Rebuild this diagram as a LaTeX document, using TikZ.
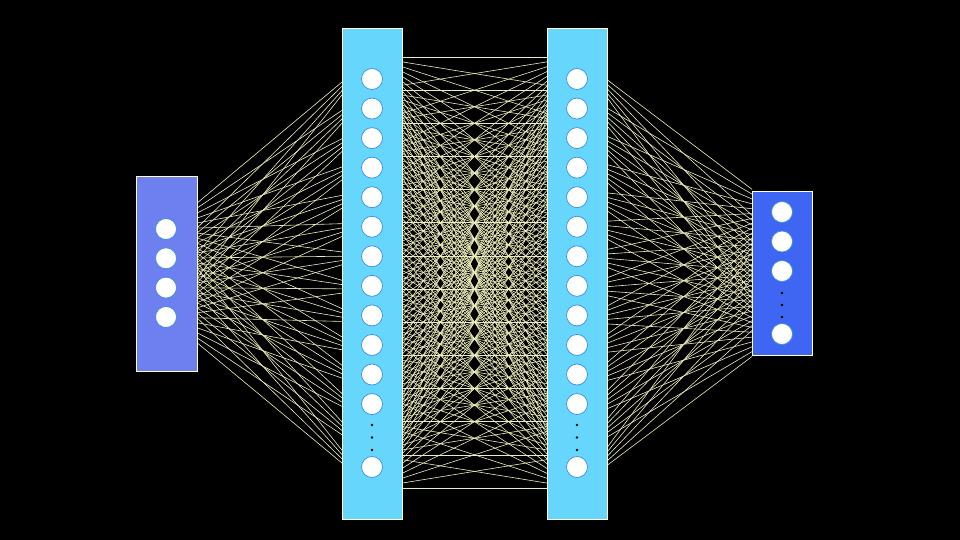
\documentclass[tikz,border=0pt]{standalone}
\usepackage{xcolor}
\definecolor{inputblue}{HTML}{6E80F0}
\definecolor{hiddencyan}{HTML}{66D6FC}
\definecolor{outputblue}{HTML}{3F66F2}
\definecolor{edgepale}{HTML}{FFFFD8}
\definecolor{wirepale}{HTML}{ECEDBC}
\definecolor{neuronrim}{HTML}{3C8CE6}
\tikzset{
  layerbox/.style={
    draw=edgepale,
    line width=0.8pt,
    inner sep=0pt,
    outer sep=0pt
  },
  inputbox/.style={layerbox, fill=inputblue, minimum width=61pt, minimum height=195pt},
  hiddenbox/.style={layerbox, fill=hiddencyan, minimum width=60pt, minimum height=491pt},
  outputbox/.style={layerbox, fill=outputblue, minimum width=60pt, minimum height=164pt},
  neuron/.style={
    circle,
    draw=neuronrim,
    fill=white,
    line width=0.7pt,
    minimum size=21pt,
    inner sep=0pt
  },
  gapdot/.style={circle, fill=black, minimum size=2.6pt, inner sep=0pt},
  weightline/.style={draw=wirepale, line width=0.6pt}
}

\begin{document}
\begin{tikzpicture}[x=1pt,y=-1pt]
\fill[black] (0,0) rectangle (960,540);
\useasboundingbox (0,0) rectangle (960,540);

% units the weights are aimed at
\foreach \y [count=\k] in {229,258.3,287.6,317}{\coordinate (inP\k) at (166,\y);}
\foreach \k in {0,...,13}{
  \coordinate (vA\k) at (372,57+33.15*\k);
  \coordinate (vB\k) at (577,57+33.15*\k);
}
\foreach \y [count=\k] in {212,242.5,273,303.5,334}{\coordinate (outP\k) at (782,\y);}

% weights, cut off at the layer edges
\begin{scope}
\clip (197,0) rectangle (342,540);
\foreach \i in {1,...,4}{\foreach \j in {0,...,13}{\draw[weightline] (inP\i) -- (vA\j);}}
\end{scope}
\begin{scope}
\clip (402,0) rectangle (547,540);
\foreach \i in {0,...,13}{\foreach \j in {0,...,13}{\draw[weightline] (vA\i) -- (vB\j);}}
\end{scope}
\begin{scope}
\clip (607,0) rectangle (752,540);
\foreach \i in {0,...,13}{\foreach \j in {1,...,5}{\draw[weightline] (vB\i) -- (outP\j);}}
\end{scope}

% layers
\node[inputbox] (inlayer) at (166.5,273.5) {};
\node[hiddenbox] (hidA) at (372,273.5) {};
\node[hiddenbox] (hidB) at (577,273.5) {};
\node[outputbox] (outlayer) at (782,273) {};

% input neurons
\foreach \k in {1,...,4}{\node[neuron] (x\k) at (inP\k) {};}

% hidden neurons
\foreach \k in {0,...,11}{
  \node[neuron] (hA\k) at (372,79+29.55*\k) {};
  \node[neuron] (hB\k) at (577,79+29.55*\k) {};
}
\node[neuron] (hA12) at (372,467) {};
\node[neuron] (hB12) at (577,467) {};
\foreach \y [count=\c] in {425,437.5,450}{
  \node[gapdot] (dA\c) at (372,\y) {};
  \node[gapdot] (dB\c) at (577,\y) {};
}

% output neurons
\foreach \y [count=\k] in {212,241.5,271}{\node[neuron] (y\k) at (782,\y) {};}
\node[neuron] (y4) at (782,334) {};
\foreach \y [count=\c] in {293,305,317}{\node[gapdot] (dY\c) at (782,\y) {};}
\end{tikzpicture}
\end{document}
